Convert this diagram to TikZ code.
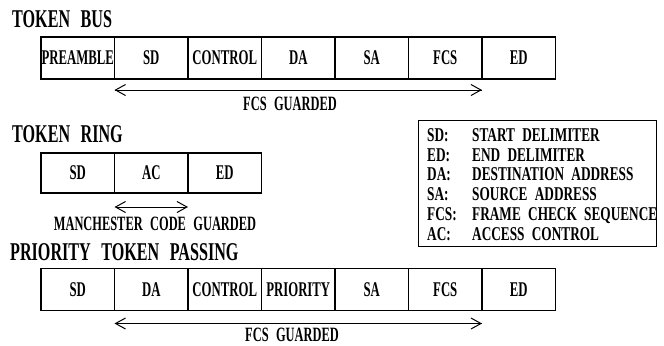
\documentclass[tikz,border=0pt]{standalone}
\usepackage{fontspec}
\usetikzlibrary{arrows.meta}
\newfontfamily\cellfont[FakeStretch=0.61]{Liberation Serif}
\newfontfamily\titlefont[FakeStretch=0.63,WordSpace=2.6]{Liberation Serif}
\newfontfamily\guardfont[FakeStretch=0.61,WordSpace=2.4]{Liberation Serif}
\newfontfamily\legfont[FakeStretch=0.68,WordSpace=2.2]{Liberation Serif}
\begin{document}
\begin{tikzpicture}[x=1bp,y=-1bp,
  cell/.style={draw, line width=1.2bp, minimum width=73.5bp, minimum height=42bp, inner sep=0pt, outer sep=0pt,
    font=\cellfont\bfseries\fontsize{21}{21}\selectfont},
  rcell/.style={cell, minimum height=40bp},
  ttl/.style={anchor=base west, inner sep=0pt, font=\titlefont\bfseries\fontsize{25.7}{25.7}\selectfont},
  guard/.style={inner sep=0pt, font=\guardfont\bfseries\fontsize{20.4}{20.4}\selectfont},
  leg/.style={anchor=base west, inner sep=0pt, font=\legfont\bfseries\fontsize{19.6}{19.6}\selectfont},
  arr/.style={line width=1bp, -{Straight Barb[length=10bp,width=11bp]}},
  darr/.style={line width=1bp, {Straight Barb[length=10bp,width=11bp]}-{Straight Barb[length=10bp,width=11bp]}}
]
\useasboundingbox (0,0) rectangle (664,345);
% Token bus
\node[ttl] (t1) at (12,27) {TOKEN BUS};
\node[cell] (b1) at (77.75,58) {PREAMBLE};
\node[cell] (b2) at (151.25,58) {SD};
\node[cell] (b3) at (224.75,58) {CONTROL};
\node[cell] (b4) at (298.25,58) {DA};
\node[cell] (b5) at (371.75,58) {SA};
\node[cell] (b6) at (445.25,58) {FCS};
\node[cell] (b7) at (518.75,58) {ED};
\draw[arr] ([yshift=-11bp]b6.south east) -- ([yshift=-11bp]b2.south west);
\draw[arr] ([yshift=-11bp]b2.south west) -- ([yshift=-11bp]b6.south east);
\node[guard] (g1) at (290,103.5) {FCS GUARDED};
% Token ring
\node[ttl] (t2) at (12,142) {TOKEN RING};
\node[rcell] (r1) at (77.75,173) {SD};
\node[rcell] (r2) at (151.25,173) {AC};
\node[rcell] (r3) at (224.75,173) {ED};
\draw[darr] ([yshift=-14bp]r2.south west) -- ([yshift=-14bp]r2.south east);
\node[guard] (g2) at (155,223.5) {MANCHESTER CODE GUARDED};
% Priority token passing
\node[ttl] (t3) at (10,260) {PRIORITY TOKEN PASSING};
\node[cell] (p1) at (77.75,289.5) {SD};
\node[cell] (p2) at (151.25,289.5) {DA};
\node[cell] (p3) at (224.75,289.5) {CONTROL};
\node[cell] (p4) at (298.25,289.5) {PRIORITY};
\node[cell] (p5) at (371.75,289.5) {SA};
\node[cell] (p6) at (445.25,289.5) {FCS};
\node[cell] (p7) at (518.75,289.5) {ED};
\draw[arr] ([yshift=-13bp]p6.south east) -- ([yshift=-13bp]p2.south west);
\draw[arr] ([yshift=-13bp]p2.south west) -- ([yshift=-13bp]p6.south east);
\node[guard] (g3) at (292,335) {FCS GUARDED};
% Legend
\node[draw, line width=1bp, minimum width=238bp, minimum height=126bp, inner sep=0pt] (lg) at (537,183) {};
\node[leg] (l1) at (427,141.5) {SD:};
\node[leg] (d1) at (472,141.5) {START DELIMITER};
\node[leg] (l2) at (427,161.2) {ED:};
\node[leg] (d2) at (472,161.2) {END DELIMITER};
\node[leg] (l3) at (427,180.9) {DA:};
\node[leg] (d3) at (472,180.9) {DESTINATION ADDRESS};
\node[leg] (l4) at (427,200.6) {SA:};
\node[leg] (d4) at (472,200.6) {SOURCE ADDRESS};
\node[leg] (l5) at (427,220.3) {FCS:};
\node[leg] (d5) at (472,220.3) {FRAME CHECK SEQUENCE};
\node[leg] (l6) at (427,240) {AC:};
\node[leg] (d6) at (472,240) {ACCESS CONTROL};
\end{tikzpicture}
\end{document}
